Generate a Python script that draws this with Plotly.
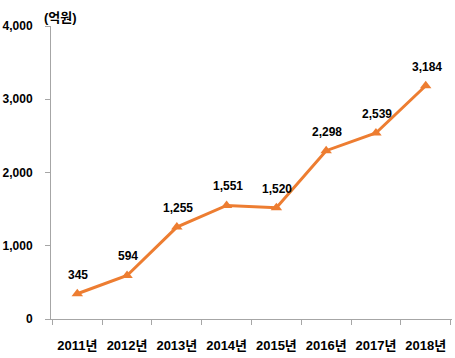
import plotly.graph_objects as go

years = ["2011년", "2012년", "2013년", "2014년", "2015년", "2016년", "2017년", "2018년"]
values = [345, 594, 1255, 1551, 1520, 2298, 2539, 3184]
value_labels = ["345", "594", "1,255", "1,551", "1,520", "2,298", "2,539", "3,184"]

orange = "#ED7D31"
font_family = "Liberation Sans, Arial, Noto Sans CJK KR, sans-serif"

fig = go.Figure()
fig.add_trace(go.Scatter(
    x=years, y=values,
    mode="lines+markers",
    line=dict(color=orange, width=3),
    marker=dict(symbol="triangle-up", size=10, color=orange),
    cliponaxis=False,
    hoverinfo="skip",
))

annotations = [dict(
    text="<b>(억원)</b>", xref="paper", yref="paper",
    x=0.0, y=1.0, xanchor="left", yanchor="bottom", xshift=-9, yshift=-1,
    showarrow=False, font=dict(family=font_family, size=13, color="#000000"),
)]
for yr, v, lab in zip(years, values, value_labels):
    annotations.append(dict(
        x=yr, y=v, xref="x", yref="y", text="<b>" + lab + "</b>",
        showarrow=False, xanchor="center", yanchor="middle", yshift=19, xshift=1,
        font=dict(family=font_family, size=12, color="#000000"),
    ))

fig.update_layout(
    width=455, height=358,
    margin=dict(l=51, r=3, t=26, b=39, autoexpand=False),
    paper_bgcolor="white", plot_bgcolor="white",
    showlegend=False,
    font=dict(family=font_family, size=12, color="#000000"),
    annotations=annotations,
)
fig.update_xaxes(
    type="category", tickson="boundaries", automargin=False,
    tickangle=0,
    showline=True, linecolor="#A6A6A6", linewidth=1,
    ticks="outside", tickcolor="#A6A6A6", ticklen=5,
    ticklabelstandoff=14,
    showgrid=False, zeroline=False,
    tickfont=dict(family=font_family, size=13, color="#000000", weight="bold"),
)
fig.update_yaxes(
    range=[0, 4000], tickvals=[0, 1000, 2000, 3000, 4000],
    tickformat=",d", automargin=False,
    showline=True, linecolor="#A6A6A6", linewidth=1,
    ticks="outside", tickcolor="#A6A6A6", ticklen=5,
    ticklabelstandoff=10,
    showgrid=False, zeroline=False,
    tickfont=dict(family=font_family, size=12, color="#000000", weight="bold"),
)

fig.write_html(
    "out.html",
    config={"displayModeBar": False},
    post_script="document.body.style.margin='0';document.body.style.padding='0';document.body.style.overflow='hidden';",
)
